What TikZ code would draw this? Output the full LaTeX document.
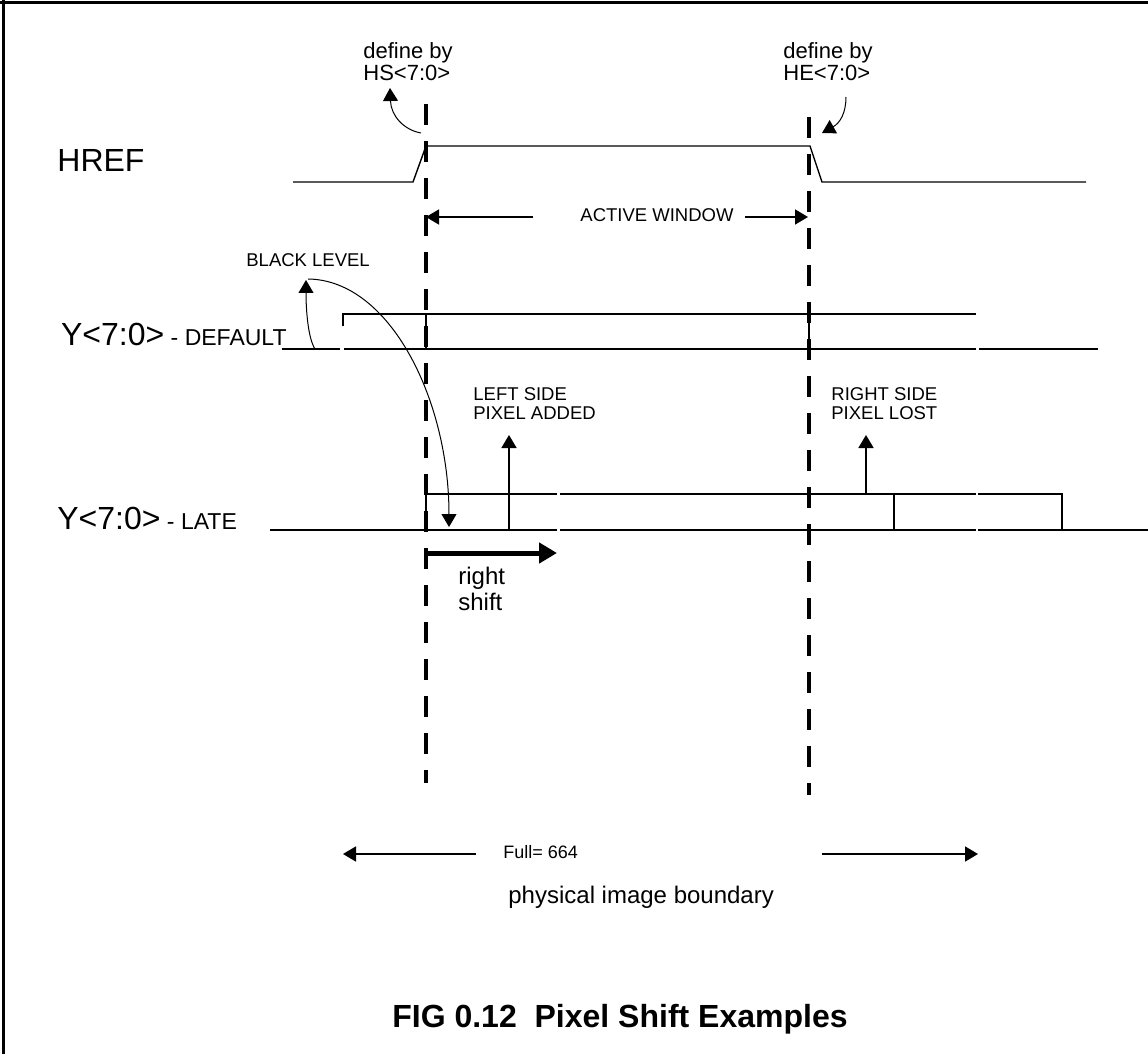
\documentclass[tikz,border=0pt]{standalone}
\usepackage{fontspec}
\setmainfont{Liberation Sans}
\usetikzlibrary{arrows.meta}

\newcommand\sigfont{\fontsize{16pt}{19pt}\selectfont}
\newcommand\subfont{\fontsize{11.5pt}{14pt}\selectfont}
\newcommand\notefont{\fontsize{9.25pt}{9.5pt}\selectfont}
\newcommand\deffont{\fontsize{11pt}{10.9pt}\selectfont}
\newcommand\shiftfont{\fontsize{12pt}{13pt}\selectfont}
\newcommand\fullfont{\fontsize{9pt}{11pt}\selectfont}
\newcommand\physfont{\fontsize{12pt}{14pt}\selectfont}
\newcommand\figfont{\fontsize{16pt}{19pt}\selectfont\bfseries}

\begin{document}
\begin{tikzpicture}[x=0.5pt,y=-0.5pt,
  signal/.style={line width=0.9pt},
  hrefline/.style={line width=0.7pt},
  boundary/.style={line width=2.25pt,dash pattern=on 10.5pt off 8pt},
  pointer/.style={line width=0.9pt,-{Triangle[width=7.5pt,length=6.5pt]}},
  bendpointer/.style={line width=0.5pt,-{Triangle[width=7.5pt,length=6.5pt]}},
  txt/.style={inner sep=0pt}]
  \useasboundingbox (0,0) rectangle (1148,1054);

  % Frame
  \draw[line width=1.5pt] (0,3) -- (1148,3);
  \draw[line width=1.5pt] (3,0) -- (3,1054);

  % Window boundaries
  \coordinate (hs top) at (426,104);
  \coordinate (hs bot) at (426,783);
  \coordinate (he top) at (809,117);
  \coordinate (he bot) at (809,795);
  \draw[boundary] (hs top) -- (hs bot);
  \draw[boundary] (he top) -- (he bot);

  % HREF
  \node[txt,anchor=base west,font=\sigfont] (href) at (57,172) {HREF};
  \draw[hrefline] (293,182) -- (413,182) -- (426,146) -- (810,146) -- (822,182) -- (1086,182);

  % define by HS / HE
  \node[txt,anchor=north west,align=left,font=\deffont] (hs) at (363,42) {define by\\HS<7:0>};
  \node[txt,anchor=north west,align=left,font=\deffont] (he) at (783,42) {define by\\HE<7:0>};
  \coordinate (hs from) at (421,133);
  \coordinate (hs to) at (390,88);
  \draw[bendpointer] (hs from) .. controls (404,130) and (391,116) .. (hs to);
  \coordinate (he from) at (846,97);
  \coordinate (he to) at (822,133);
  \draw[bendpointer] (he from) .. controls (846,113) and (840,123) .. (he to);

  % Active window
  \node[txt,anchor=base,font=\notefont] (active) at (657,222) {ACTIVE WINDOW};
  \coordinate (aw l) at (533,217);
  \coordinate (aw r) at (745,217);
  \draw[pointer] (aw l) -- (426,217);
  \draw[pointer] (aw r) -- (808,217);

  % Black level
  \node[txt,anchor=base west,font=\notefont] (black) at (246,267) {BLACK LEVEL};

  % Y<7:0> - DEFAULT
  \node[txt,anchor=base east] (ydef) at (287,345) {\sigfont Y<7:0>\subfont\ - DEFAULT};
  \draw[signal] (282,349) -- (340,349);
  \draw[signal] (344,349) -- (976,349);
  \draw[signal] (979,349) -- (1098,349);
  \draw[signal] (343,326) -- (343,314) -- (976,314);
  \draw[signal] (426,314) -- (426,349);
  \draw[signal] (809,314) -- (809,349);

  \coordinate (bl from) at (315,349);
  \coordinate (bl to) at (306,280);
  \draw[bendpointer] (bl from) .. controls (308,338) and (306,310) .. (bl to);
  \coordinate (late to) at (449,527);
  \draw[bendpointer] (308,279) .. controls (390,280) and (449,400) .. (late to);

  % Added / lost pixels
  \node[txt,anchor=north west,align=left,font=\notefont] (added) at (473,387) {LEFT SIDE\\PIXEL ADDED};
  \node[txt,anchor=north west,align=left,font=\notefont] (lost) at (831,387) {RIGHT SIDE\\PIXEL LOST};
  \draw[pointer] (509,530) -- (509,435);
  \draw[pointer] (866,494) -- (866,435);

  % Y<7:0> - LATE
  \node[txt,anchor=base west] (ylate) at (57,529) {\sigfont Y<7:0>\subfont\ - LATE};
  \draw[signal] (270,530) -- (557,530);
  \draw[signal] (560,530) -- (976,530);
  \draw[signal] (978,530) -- (1148,530);
  \draw[signal] (426,530) -- (426,494) -- (557,494);
  \draw[signal] (560,494) -- (976,494);
  \draw[signal] (978,494) -- (1062,494) -- (1062,530);
  \draw[signal] (894,494) -- (894,530);

  % right shift
  \coordinate (shift end) at (557,553);
  \draw[line width=2.5pt,-{Triangle[width=10pt,length=9pt]}] (426,553) -- (shift end);
  \node[txt,anchor=north west,align=left,font=\shiftfont] (shift) at (458,567) {right\\shift};

  % Full size
  \node[txt,anchor=base west,font=\fullfont] (full) at (503,858) {Full= 664};
  \coordinate (full l) at (343,854);
  \coordinate (full r) at (978,854);
  \draw[pointer] (476,854) -- (full l);
  \draw[pointer] (822,854) -- (full r);
  \node[txt,anchor=base west,font=\physfont] (phys) at (508,903) {physical image boundary};

  % Caption
  \node[txt,anchor=base,font=\figfont] (caption) at (620,1027) {FIG 0.12\ \ Pixel Shift Examples};
\end{tikzpicture}
\end{document}
